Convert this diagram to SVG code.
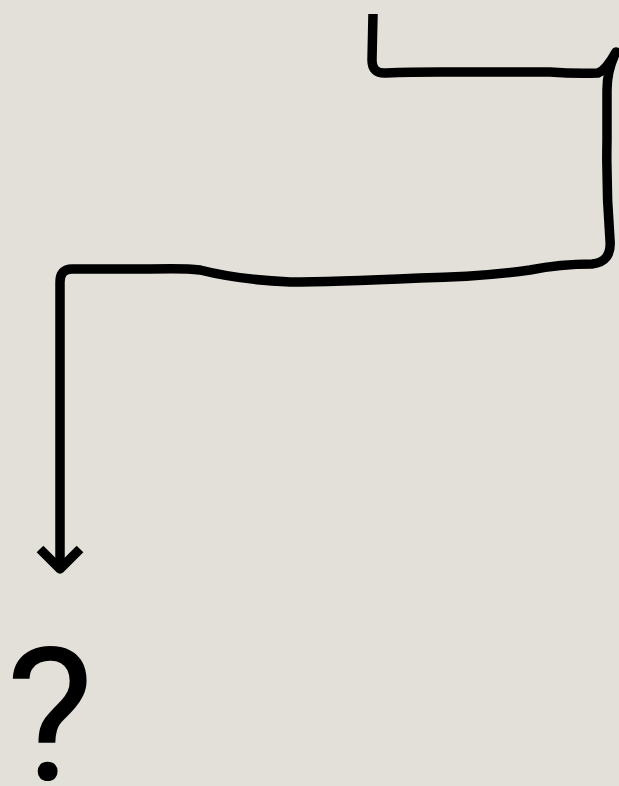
<svg xmlns="http://www.w3.org/2000/svg" width="619" height="786" viewBox="0 0 619 786">
<style>
.line{fill:none;stroke:#000;stroke-width:9.5;stroke-linecap:butt;stroke-linejoin:round}
.q{font-family:Roboto,"Liberation Sans",Arial,sans-serif;font-size:186px;fill:#000}
</style>
<rect width="619" height="786" fill="#e2e0d8"/>
<g id="connectors">
<path class="line" d="M373,14 L372,60 Q372,74 386,73 Q410,72 440,72 L550,72 Q575,74 598,73 Q606,70 616,52 Q607,70 607,90 L607,140 Q606,190 610,240 Q612,262 592,264 Q560,264 530,270 Q480,277 420,278 Q330,282 290,282 Q240,280 200,270 Q185,268 150,269 L72,269 Q60,269 60,282 L60,566"/>
<path class="line" d="M40,549 L60,569 L80,549"/>
</g>
<g id="node-question">
<text class="q" x="50" y="780" text-anchor="middle">?</text>
</g>
</svg>
